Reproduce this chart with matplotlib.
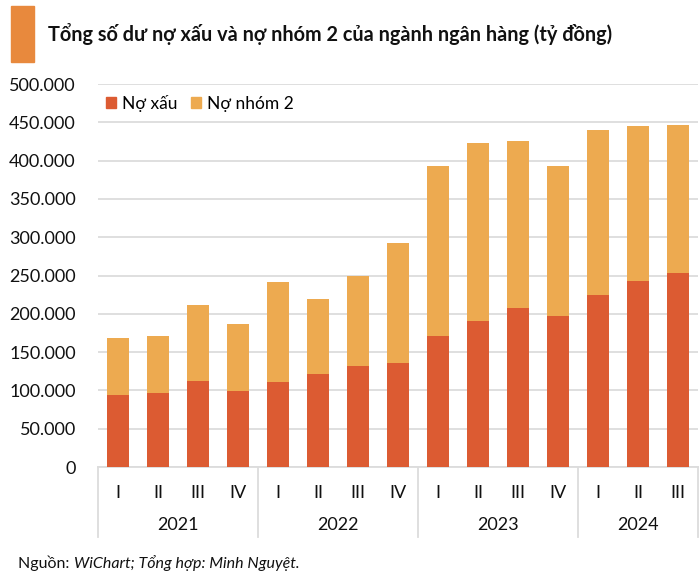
import matplotlib
matplotlib.use("Agg")
import numpy as np
from matplotlib import pyplot as plt
from matplotlib.patches import Patch, Rectangle
from matplotlib.ticker import FuncFormatter, MultipleLocator

# dữ liệu (tỷ đồng), theo quý
quarters = ["I", "II", "III", "IV", "I", "II", "III", "IV",
            "I", "II", "III", "IV", "I", "II", "III"]
years = ["2021", "2022", "2023", "2024"]
year_sizes = [4, 4, 4, 3]
no_xau = [94000, 97000, 112000, 99000, 111000, 121000, 132000, 136000,
          171000, 190000, 208000, 197000, 224000, 243000, 253000]
no_nhom2 = [74000, 74000, 99000, 88000, 130000, 98000, 118000, 156000,
            222000, 233000, 217000, 196000, 216000, 202000, 194000]

RED = "#DC5B32"
ORANGE = "#EDAA50"
GRID = "#DCDCDC"

plt.rcParams['font.family'] = ['Lato', 'DejaVu Sans']


def main():
    fig = plt.figure(figsize=(7, 5.84), dpi=100)
    ax = fig.add_axes([0.14, 0.2003, 0.857, 0.6558])

    x = np.arange(len(quarters))
    ax.bar(x, no_xau, width=0.56, color=RED, zorder=3)
    ax.bar(x, no_nhom2, width=0.56, bottom=no_xau, color=ORANGE, zorder=3)

    ax.set_xlim(-0.5, len(quarters) - 0.5)
    ax.set_ylim(0, 500000)
    ax.yaxis.set_major_locator(MultipleLocator(50000))
    ax.yaxis.set_major_formatter(FuncFormatter(lambda v, p: f"{int(v):,}".replace(",", ".")))
    ax.grid(axis='y', color=GRID, linewidth=1.3, zorder=0)
    for s in ['top', 'right', 'left']:
        ax.spines[s].set_visible(False)
    ax.spines['bottom'].set_color(GRID)
    ax.spines['bottom'].set_linewidth(1.3)
    ax.tick_params(axis='y', length=0, labelsize=13, pad=16, labelcolor="#111111")
    ax.set_xticks([])

    # nhãn quý và năm
    tr = ax.get_xaxis_transform()
    for i, q in enumerate(quarters):
        ax.text(i, -0.068, q, transform=tr, ha='center', va='center', fontsize=13, color="#111111")
    start = 0
    for yr, n in zip(years, year_sizes):
        ax.text(start + (n - 1) / 2, -0.151, yr, transform=tr, ha='center', va='center',
                fontsize=13, color="#111111")
        start += n
    bounds = np.concatenate([[0], np.cumsum(year_sizes)]) - 0.5
    for b in bounds:
        ax.plot([b, b], [0, -0.183], transform=tr, color=GRID, linewidth=1.3, clip_on=False)

    # chú thích
    handles = [Patch(color=RED, label="Nợ xấu"), Patch(color=ORANGE, label="Nợ nhóm 2")]
    fig.legend(handles=handles, loc='center left', bbox_to_anchor=(106 / 700, 1 - 103 / 584),
               ncol=2, frameon=False, fontsize=12.5, handlelength=0.55, handleheight=0.55,
               handletextpad=0.35, columnspacing=0.8, borderpad=0, borderaxespad=0)

    # tiêu đề
    fig.patches.append(Rectangle((11 / 700, 1 - 62 / 584), 23 / 700, 56 / 584,
                                 transform=fig.transFigure, color="#E8893D"))
    fig.text(48 / 700, 1 - 34 / 584, "Tổng số dư nợ xấu và nợ nhóm 2 của ngành ngân hàng (tỷ đồng)",
             fontsize=14.3, fontweight='bold', va='center', ha='left', color="#111111")

    # nguồn
    t1 = fig.text(18 / 700, 1 - 563 / 584, "Nguồn: ", fontsize=11.5, va='center', ha='left',
                  color="#111111")
    fig.canvas.draw()
    bb = t1.get_window_extent()
    fig.text(bb.x1 / 700, 1 - 563 / 584, "WiChart; Tổng hợp: Minh Nguyệt.", fontsize=11.5,
             style='italic', va='center', ha='left', color="#111111")

    plt.savefig("out.png", dpi=100)


if __name__ == "__main__":
    main()
